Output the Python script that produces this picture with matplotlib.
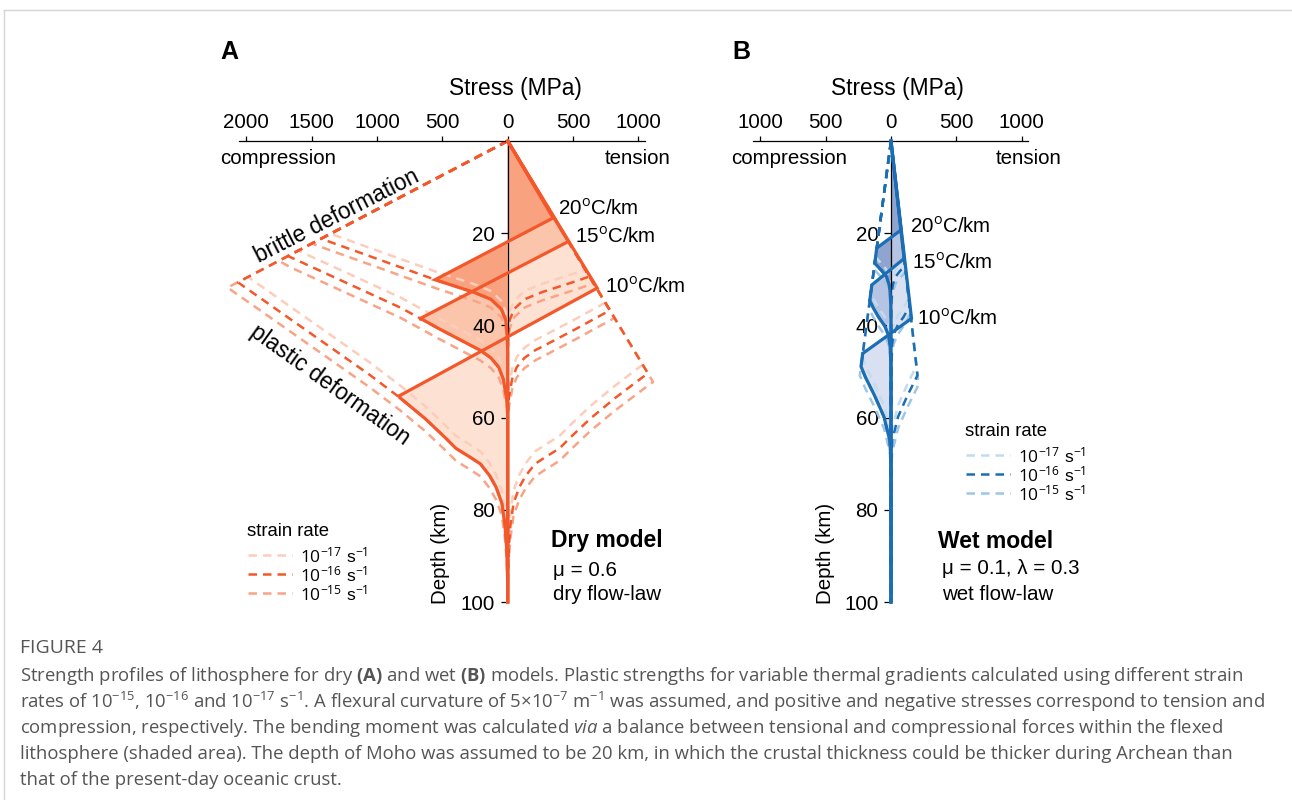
import numpy as np
import matplotlib
matplotlib.use("Agg")
import matplotlib.pyplot as plt
from matplotlib.lines import Line2D

plt.rcParams['font.family'] = ['Liberation Sans', 'DejaVu Sans']
plt.rcParams['mathtext.fontset'] = 'custom'
plt.rcParams['mathtext.rm'] = 'Open Sans'
plt.rcParams['mathtext.it'] = 'Open Sans:italic'
plt.rcParams['mathtext.bf'] = 'Open Sans:bold'

W, H = 1292, 800

# ---------------------------------------------------------------- data
depth_ticks = [20, 40, 60, 80, 100]
stress_ticks_a = [-2000, -1500, -1000, -500, 0, 500, 1000]
stress_ticks_b = [-1000, -500, 0, 500, 1000]
gradient_labels = ['20$^{\\rm o}$C/km', '15$^{\\rm o}$C/km', '10$^{\\rm o}$C/km']
rate_labels = [r'$10^{-17}$ s$^{-1}$', r'$10^{-16}$ s$^{-1}$', r'$10^{-15}$ s$^{-1}$']

# Dry model: frictional strength gradients (MPa per km)
dry_brittle_tension = 21.3
dry_brittle_compression = 67.4

# Dry model: plastic strength (MPa) against depth (km) for 20, 15, 10 C/km
dry20_strength = [1633, 1437, 556, 270, 130, 50, 15, 5, 0]
dry20_depth_16 = [19.0, 21.1, 30.1, 32.7, 34.3, 36.4, 38.8, 41.5, 45.0]
dry20_depth_17 = [17.2, 19.3, 28.3, 30.9, 32.5, 34.6, 37.0, 39.7, 43.2]
dry20_depth_15 = [20.8, 22.9, 31.9, 34.5, 36.1, 38.2, 40.6, 43.3, 46.8]

dry15_strength = [1800, 1670, 830, 660, 560, 320, 215, 130, 70, 35, 12, 0]
dry15_depth_16 = [23.0, 25.1, 36.0, 38.6, 40.2, 43.8, 45.3, 47.0, 49.0, 51.5, 55.0, 58.0]
dry15_depth_17 = [20.8, 22.9, 33.8, 36.4, 38.0, 41.6, 43.1, 44.8, 46.8, 49.3, 52.8, 55.8]
dry15_depth_15 = [25.2, 27.3, 38.2, 40.8, 42.4, 46.0, 47.5, 49.2, 51.2, 53.7, 57.2, 60.2]

dry10_strength = [2250, 2062, 1076, 837, 640, 490, 400, 320, 210, 140, 90, 45, 22, 8, 0]
dry10_depth_16 = [27.0, 30.7, 50.3, 55.4, 60.0, 64.0, 66.6, 68.0, 70.0, 72.5, 75.0, 78.5, 83.0, 88.0, 95.0]
dry10_depth_17 = [24.3, 28.0, 47.6, 52.7, 57.3, 61.3, 63.9, 65.3, 67.3, 69.8, 72.3, 75.8, 80.3, 85.3, 92.3]
dry10_depth_15 = [29.7, 33.4, 53.0, 58.1, 62.7, 66.7, 69.3, 70.7, 72.7, 75.2, 77.7, 81.2, 85.7, 90.7, 97.7]

# Dry model: ends of the elastic bending segment (10^-16 s^-1)
dry_tip_tension_depth = [16.7, 21.8, 31.9]
dry_tip_tension_stress = [347, 464, 685]
dry_tip_compression_depth = [30.1, 38.6, 55.4]
dry_tip_compression_stress = [-556, -676, -837]

# Wet model: frictional strength gradients (MPa per km)
wet_brittle_tension = 4.0
wet_brittle_compression = 4.7

# Wet model: plastic strength (MPa) against depth (km)
wet20_strength = [300, 125, 75, 35, 15, 8, 2, 0]
wet20_depth_16 = [22.0, 26.5, 28.0, 29.4, 31.0, 32.3, 35.0, 38.0]
wet20_depth_17 = [20.5, 25.0, 26.5, 27.9, 29.5, 30.8, 33.5, 36.5]
wet20_depth_15 = [23.5, 28.0, 29.5, 30.9, 32.5, 33.8, 36.5, 39.5]

wet15_strength = [300, 165, 140, 100, 50, 20, 8, 2, 0]
wet15_depth_16 = [30.0, 34.5, 36.0, 38.0, 40.0, 42.0, 44.0, 47.0, 50.0]
wet15_depth_17 = [28.0, 32.5, 34.0, 36.0, 38.0, 40.0, 42.0, 45.0, 48.0]
wet15_depth_15 = [32.0, 36.5, 38.0, 40.0, 42.0, 44.0, 46.0, 49.0, 52.0]

wet10_strength = [300, 228, 200, 134, 55, 10, 2, 0]
wet10_depth_16 = [45.0, 49.0, 51.0, 54.7, 59.7, 64.8, 68.0, 72.0]
wet10_depth_17 = [42.5, 46.5, 48.5, 52.2, 57.2, 62.3, 65.5, 69.5]
wet10_depth_15 = [47.5, 51.5, 53.5, 57.2, 62.2, 67.3, 70.5, 74.5]

wet_tip_tension_depth = [19.3, 25.5, 38.5]
wet_tip_tension_stress = [77, 100, 157]
wet_tip_compression_depth = [23.2, 31.2, 46.0]
wet_tip_compression_stress = [-109, -147, -212]

# ---------------------------------------------------------------- styles
orange = '#F4582A'
orange_17 = '#FCCDBB'
orange_15 = '#F8A487'
orange_fill = ['#F8A27F', '#FBC5AC', '#FDE1D3']
blue = '#1B6DB4'
blue_17 = '#C4DBEF'
blue_15 = '#9EC5E6'
blue_fill = ['#8FA5D0', '#B5C4E3', '#D9E0F1']

zgrid = np.linspace(0, 100, 4001)


def envelope(depth_nodes, strength_nodes, brittle_slope):
    plastic = np.interp(zgrid, depth_nodes, strength_nodes, left=1e6, right=0.0)
    return np.minimum(brittle_slope * zgrid, plastic)


def draw_panel(ax, strengths, depths, bt, bc, tt_z, tt_s, tc_z, tc_s,
               main, c17, c15, fills):
    profiles = []
    for i in range(3):
        env_c = envelope(depths['16'][i], strengths[i], bc)
        below = zgrid > tc_z[i]
        xs = np.concatenate([[0, tt_s[i], tc_s[i]], -env_c[below]])
        zs = np.concatenate([[0, tt_z[i], tc_z[i]], zgrid[below]])
        profiles.append((xs, zs))
    # shaded bending-stress areas, coolest gradient first
    for i in [2, 1, 0]:
        ax.fill(profiles[i][0], profiles[i][1], color=fills[i], lw=0,
                zorder=1, clip_on=False)
    # yield envelopes for the three strain rates
    for rate, col in [('17', c17), ('15', c15), ('16', main)]:
        for i in range(3):
            et = envelope(depths[rate][i], strengths[i], bt)
            ec = envelope(depths[rate][i], strengths[i], bc)
            for xs in (et, -ec):
                ax.plot(xs, zgrid, color=col, lw=1.8, ls=(0, (3.4, 2.4)),
                        zorder=2, clip_on=False, dash_capstyle='butt')
    for xs, zs in profiles:
        ax.plot(xs, zs, color=main, lw=2.3, zorder=4, clip_on=False,
                solid_joinstyle='miter')


def style_axes(ax, ticks, bounds):
    ax.patch.set_visible(False)
    ax.set_ylim(100, 0)
    for s in ['bottom', 'right']:
        ax.spines[s].set_visible(False)
    ax.spines['top'].set_bounds(*bounds)
    ax.spines['top'].set_linewidth(0.9)
    ax.spines['left'].set_position(('data', 0))
    ax.spines['left'].set_bounds(0, 100)
    ax.spines['left'].set_linewidth(0.9)
    ax.xaxis.set_ticks_position('top')
    ax.yaxis.set_ticks_position('left')
    ax.set_xticks(ticks)
    ax.set_xticklabels([str(abs(t)) for t in ticks])
    ax.set_yticks(depth_ticks)
    ax.set_yticklabels([str(t) for t in depth_ticks])
    ax.tick_params(axis='x', direction='out', length=3.8, width=0.9, pad=3,
                   labelsize=14.8)
    ax.tick_params(axis='y', direction='out', length=5, width=0.9, pad=4,
                   labelsize=14.8)


fig = plt.figure(figsize=(W / 100, H / 100), dpi=100)


def px_axes(left, right, top, bottom):
    return fig.add_axes([left / W, 1 - bottom / H, (right - left) / W,
                         (bottom - top) / H])


def ftext(x, y, s, **kw):
    kw.setdefault('va', 'center')
    kw.setdefault('fontsize', 14.8)
    return fig.text(x / W, 1 - y / H, s, **kw)


scale = 0.1307  # pixels per MPa

# ---------------- panel A
axA = px_axes(200, 700, 141, 602)
axA.set_xlim((200 - 507.7) / scale, (700 - 507.7) / scale)
style_axes(axA, stress_ticks_a, (-2058, 1048))
draw_panel(axA,
           [dry20_strength, dry15_strength, dry10_strength],
           {'16': [dry20_depth_16, dry15_depth_16, dry10_depth_16],
            '17': [dry20_depth_17, dry15_depth_17, dry10_depth_17],
            '15': [dry20_depth_15, dry15_depth_15, dry10_depth_15]},
           dry_brittle_tension, dry_brittle_compression,
           dry_tip_tension_depth, dry_tip_tension_stress,
           dry_tip_compression_depth, dry_tip_compression_stress,
           orange, orange_17, orange_15, orange_fill)

# ---------------- panel B
axB = px_axes(720, 1100, 141, 602)
axB.set_xlim((720 - 891) / scale, (1100 - 891) / scale)
style_axes(axB, stress_ticks_b, (-1056, 1048))
draw_panel(axB,
           [wet20_strength, wet15_strength, wet10_strength],
           {'16': [wet20_depth_16, wet15_depth_16, wet10_depth_16],
            '17': [wet20_depth_17, wet15_depth_17, wet10_depth_17],
            '15': [wet20_depth_15, wet15_depth_15, wet10_depth_15]},
           wet_brittle_tension, wet_brittle_compression,
           wet_tip_tension_depth, wet_tip_tension_stress,
           wet_tip_compression_depth, wet_tip_compression_stress,
           blue, blue_17, blue_15, blue_fill)

# ---------------- panel texts
ftext(229, 52, 'A', fontsize=18, weight='bold', ha='center')
ftext(741, 52, 'B', fontsize=18, weight='bold', ha='center')
ftext(515, 88, 'Stress (MPa)', fontsize=16.4, ha='center')
ftext(897, 88, 'Stress (MPa)', fontsize=16.4, ha='center')
ftext(220, 158, 'compression', ha='left')
ftext(671, 158, 'tension', ha='right')
ftext(731, 158, 'compression', ha='left')
ftext(1062, 158, 'tension', ha='right')
ftext(337, 216, 'brittle deformation', fontsize=16.3, rotation=27,
      ha='center', rotation_mode='anchor')
ftext(330, 385, 'plastic deformation', fontsize=16.3, rotation=-35.6,
      ha='center', rotation_mode='anchor')
ftext(441, 553, 'Depth (km)', rotation=90, ha='center')
ftext(825, 553, 'Depth (km)', rotation=90, ha='center')

for lab, x, y in zip(gradient_labels, [558, 575, 605], [209, 237, 287]):
    ftext(x, y, lab, ha='left')
for lab, x, y in zip(gradient_labels, [910, 912, 917], [227, 263, 319]):
    ftext(x, y, lab, ha='left')

ftext(607, 540, 'Dry model', fontsize=16.5, weight='bold', ha='center')
ftext(553, 570, 'μ = 0.6', ha='left')
ftext(553, 594, 'dry flow-law', ha='left')
ftext(996, 541, 'Wet model', fontsize=16.5, weight='bold', ha='center')
ftext(942, 569, 'μ = 0.1, λ = 0.3', ha='left')
ftext(942, 594, 'wet flow-law', ha='left')


# ---------------- strain-rate keys
def key(x0, y_title, rows, colors):
    ftext(x0, y_title, 'strain rate', fontsize=13.3, ha='left')
    for y, col, lab in zip(rows, colors, rate_labels):
        fig.add_artist(Line2D([(x0 + 1) / W, (x0 + 45) / W], [1 - y / H] * 2,
                              transform=fig.transFigure, color=col, lw=1.8,
                              ls=(0, (3.4, 2.4))))
        ftext(x0 + 53, y, lab, fontsize=12.5, ha='left')


key(247, 532, [555, 574, 593], [orange_17, orange, orange_15])
key(965, 432, [455, 474, 493], [blue_17, blue, blue_15])

# ---------------- caption
cap_kw = dict(family=['Open Sans', 'DejaVu Sans'], color='#555555',
              fontsize=13.3, ha='left')
ftext(20, 648, 'FIGURE 4', **{**cap_kw, 'fontsize': 14})
caption = [
    r'Strength profiles of lithosphere for dry $\mathbf{(A)}$ and wet $\mathbf{(B)}$ models. '
    r'Plastic strengths for variable thermal gradients calculated using different strain',
    r'rates of $10^{-15}$, $10^{-16}$ and $10^{-17}$ s$^{-1}$. A flexural curvature of '
    r'5$\times$10$^{-7}$ m$^{-1}$ was assumed, and positive and negative stresses correspond to tension and',
    r'compression, respectively. The bending moment was calculated $\mathit{via}$ a balance '
    r'between tensional and compressional forces within the flexed',
    'lithosphere (shaded area). The depth of Moho was assumed to be 20 km, in which the '
    'crustal thickness could be thicker during Archean than',
    'that of the present-day oceanic crust.',
]
for k, line in enumerate(caption):
    ftext(20, 676 + 26 * k, line, **cap_kw)

# outer frame
fig.add_artist(Line2D([4 / W, 1.0], [1 - 10 / H] * 2, transform=fig.transFigure,
                      color='#d6d6d6', lw=1.0))
fig.add_artist(Line2D([4 / W, 4 / W], [0.0, 1 - 10 / H], transform=fig.transFigure,
                      color='#d6d6d6', lw=1.0))

fig.savefig('out.png', dpi=100, facecolor='white')
